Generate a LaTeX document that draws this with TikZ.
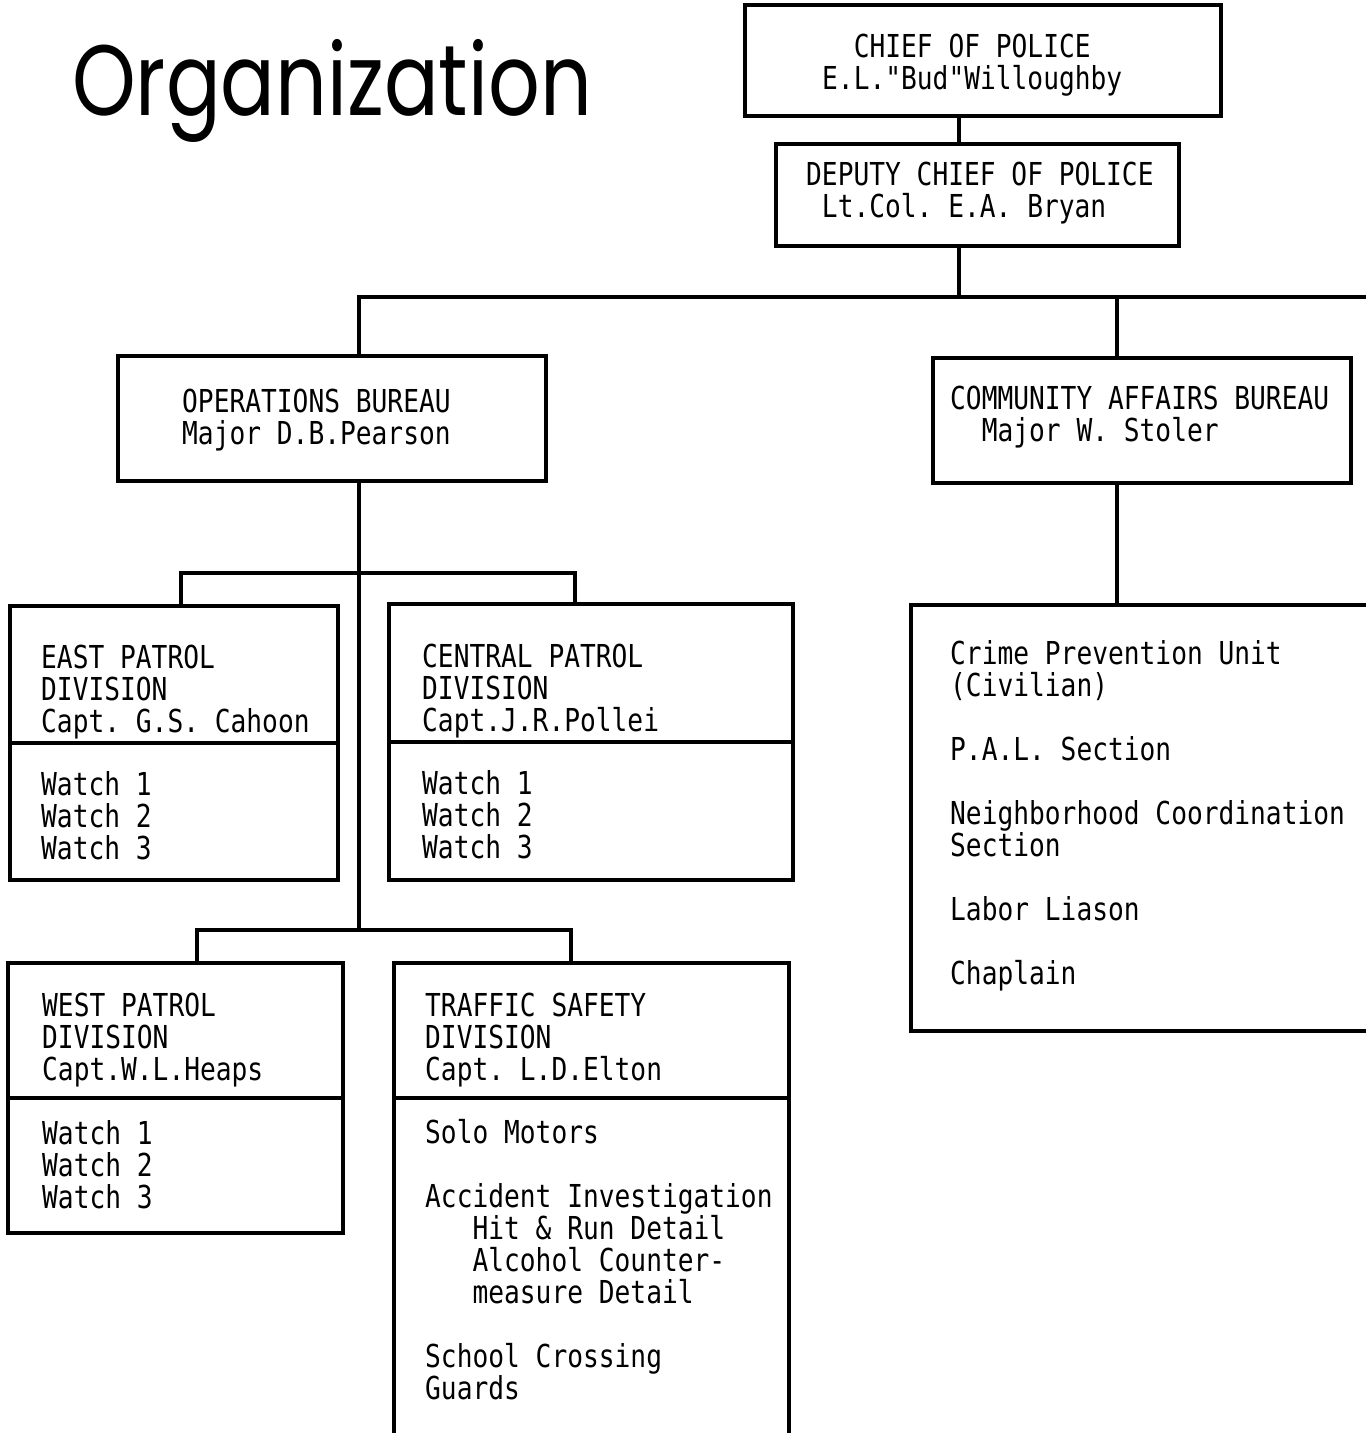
\documentclass[tikz,border=0pt]{standalone}
\usepackage{fontspec}
\usetikzlibrary{positioning}
\newfontfamily\typer[FakeStretch=0.83]{DejaVu Sans Mono}
\newfontfamily\titlefont[FakeStretch=0.81]{Poppins}
\frenchspacing
\tikzset{%
	block/.style = {draw, rectangle, line width=3.5pt, inner sep=0pt}, % Box
	txt/.style   = {anchor=base west, align=left, inner sep=0pt,
		font=\typer\fontsize{31.6}{32}\selectfont}, % Typed text, placed at its last line
	link/.style  = {line width=3.5pt} % Connector
}

\begin{document}
\begin{tikzpicture}[x=1pt,y=-1pt]
	\useasboundingbox (0,0) rectangle (1366,1433);
	\clip (0,0) rectangle (1366,1433);

	\node[anchor=base west, inner sep=0pt, font=\titlefont\fontsize{100}{100}\selectfont] (title) at (72,115) {Organization};

	% boxes
	\node[block, minimum width=476pt, minimum height=111pt] (chief)   at (983,60.5)   {};
	\node[block, minimum width=403pt, minimum height=102pt] (deputy)  at (977.5,195)  {};
	\node[block, minimum width=428pt, minimum height=125pt] (ops)     at (332,418.5)  {};
	\node[block, minimum width=418pt, minimum height=125pt] (cab)     at (1142,420.5) {};
	\node[block, minimum width=328pt, minimum height=274pt] (east)    at (174,743)    {};
	\node[block, minimum width=404pt, minimum height=276pt] (central) at (591,742)    {};
	\node[block, minimum width=335pt, minimum height=270pt] (west)    at (175.5,1098) {};
	\node[block, minimum width=395pt, minimum height=497pt] (traffic) at (591.5,1211.5) {};
	\node[block, minimum width=489pt, minimum height=426pt] (cunits)  at (1155.5,818)  {};

	% dividers
	\draw[link] (east.west)    -- (east.east);
	\draw[link] (central.west) -- (central.east);
	\draw[link] (west.west)    -- (west.east);
	\draw[link] (traffic.west |- west.east) -- (traffic.east |- west.east);

	% junctions
	\coordinate (top)    at (959,297);
	\coordinate (topend) at (1400,297);
	\coordinate (opsx)   at (359,297);
	\coordinate (cabx)   at (1117,297);
	\coordinate (eastx)  at (181,573);
	\coordinate (centx)  at (575,573);
	\coordinate (westx)  at (197,930);
	\coordinate (trafx)  at (571,930);
	\coordinate (spine)  at (359,930);

	\draw[link] (chief.south -| top)  -- (deputy.north -| top);
	\draw[link] (deputy.south -| top) -- (top);
	\draw[link] (ops.north -| opsx)   -- (opsx) -- (topend);
	\draw[link] (cabx)                -- (cab.north -| cabx);
	\draw[link] (cab.south -| cabx)   -- (cunits.north -| cabx);
	\draw[link] (ops.south -| opsx)   -- (spine);
	\draw[link] (east.north -| eastx) -- (eastx) -- (centx) -- (central.north -| centx);
	\draw[link] (west.north -| westx) -- (westx) -- (trafx) -- (traffic.north -| trafx);

	% texts
	\node[txt] (chiefTxt)   at (822,89)   {\phantom{MM}CHIEF OF POLICE\\E.L."Bud"Willoughby};
	\node[txt] (deputyTxt)  at (806,217)  {DEPUTY CHIEF OF POLICE\\\phantom{M}Lt.Col. E.A. Bryan};
	\node[txt] (opsTxt)     at (182,444)  {OPERATIONS BUREAU\\Major D.B.Pearson};
	\node[txt] (cabTxt)     at (950,441)  {COMMUNITY AFFAIRS BUREAU\\\phantom{MM}Major W. Stoler};
	\node[txt] (eastTxt)    at (41,732)   {EAST PATROL\\DIVISION\\Capt. G.S. Cahoon};
	\node[txt] (eastW)      at (41,859)   {Watch 1\\Watch 2\\Watch 3};
	\node[txt] (centralTxt) at (422,731)  {CENTRAL PATROL\\DIVISION\\Capt.J.R.Pollei};
	\node[txt] (centralW)   at (422,858)  {Watch 1\\Watch 2\\Watch 3};
	\node[txt] (westTxt)    at (42,1080)  {WEST PATROL\\DIVISION\\Capt.W.L.Heaps};
	\node[txt] (westW)      at (42,1208)  {Watch 1\\Watch 2\\Watch 3};
	\node[txt] (trafficTxt) at (425,1080) {TRAFFIC SAFETY\\DIVISION\\Capt. L.D.Elton};
	\node[txt] (trafficU)   at (425,1399) {Solo Motors\\[32pt]Accident Investigation\\
		\phantom{MMM}Hit \& Run Detail\\\phantom{MMM}Alcohol Counter-\\\phantom{MMM}measure Detail\\[32pt]
		School Crossing\\Guards};
	\node[txt] (cunitsTxt)  at (950,984)  {Crime Prevention Unit\\(Civilian)\\[32pt]P.A.L. Section\\[32pt]
		Neighborhood Coordination\\Section\\[32pt]Labor Liason\\[32pt]Chaplain};
\end{tikzpicture}
\end{document}
